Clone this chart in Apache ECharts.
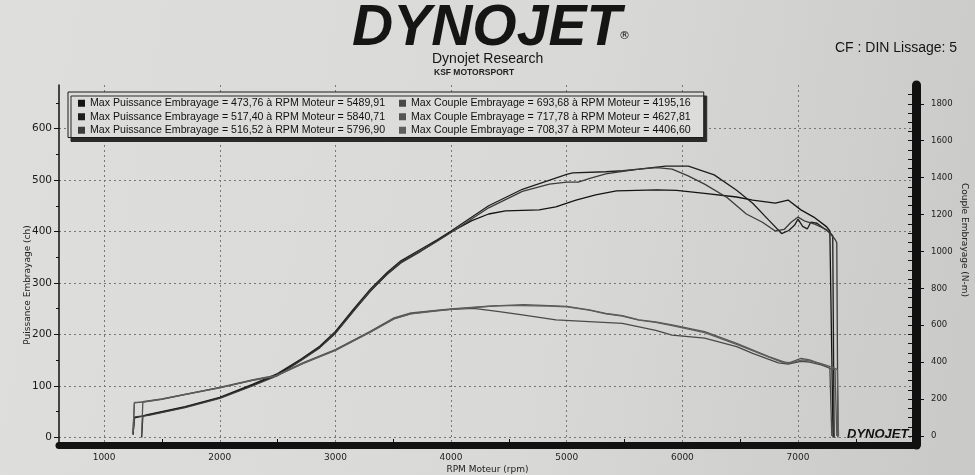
<!DOCTYPE html>
<html>
<head>
<meta charset="utf-8">
<script src="https://cdn.jsdelivr.net/npm/echarts@6.0.0/dist/echarts.min.js"></script>
<style>
  html, body { margin: 0; padding: 0; }
  body { background: linear-gradient(100deg, #dededc 0%, #d9d9d7 55%, #c9c9c7 100%); }
  #chart { width: 975px; height: 475px; }
</style>
</head>
<body>
<div id="chart"></div>
<script>
// axis ticks / labels
const rpmLabels = [1000, 2000, 3000, 4000, 5000, 6000, 7000];
const rpmMinor = [1500, 2500, 3500, 4500, 5500, 6500, 7500];
const powerLabels = [0, 100, 200, 300, 400, 500, 600];
const powerMinor = [50, 150, 250, 350, 450, 550, 650];
const torqueLabels = [0, 200, 400, 600, 800, 1000, 1200, 1400, 1600, 1800];
const torqueMinor = [];
for (let v = 0; v <= 1850; v += 50) torqueMinor.push(v);

const legendNames = [
  'Max Puissance Embrayage = 473,76 à RPM Moteur = 5489,91',
  'Max Puissance Embrayage = 517,40 à RPM Moteur = 5840,71',
  'Max Puissance Embrayage = 516,52 à RPM Moteur = 5796,90',
  'Max Couple Embrayage = 693,68 à RPM Moteur = 4195,16',
  'Max Couple Embrayage = 717,78 à RPM Moteur = 4627,81',
  'Max Couple Embrayage = 708,37 à RPM Moteur = 4406,60'
];

// [rpm, ch]
const power1 = [[1250,5],[1262,38],[1385,44],[1700,59],[2000,77],[2282,101],[2500,122],[2700,150],[2864,175],[3000,203],[3156,246],[3302,284],[3449,318],[3566,340],[3742,363],[3880,382],[4000,399],[4180,421],[4325,434],[4471,440],[4761,442],[4906,448],[5080,461],[5250,471],[5430,479],[5778,481],[5950,480],[6192,474],[6469,467],[6608,461],[6803,455],[6914,461],[7025,442],[7136,428],[7248,409],[7275,401],[7303,0]];
const power2 = [[1325,0],[1335,42],[1385,45],[1700,60],[2000,78],[2282,103],[2500,124],[2700,152],[2864,177],[3000,206],[3156,249],[3302,288],[3449,321],[3566,343],[3742,366],[3880,384],[4000,401],[4325,450],[4616,482],[5000,511],[5052,514],[5338,516],[5487,518],[5624,521],[5778,525],[5856,527],[6052,527],[6275,510],[6469,480],[6608,455],[6747,422],[6858,396],[6920,402],[6969,412],[7000,424],[7040,410],[7080,405],[7110,418],[7164,416],[7230,405],[7275,398],[7300,392],[7312,0]];
const power3 = [[1250,8],[1265,40],[1385,43],[1700,58],[2000,76],[2282,100],[2500,120],[2700,149],[2864,174],[3000,202],[3156,245],[3302,285],[3449,317],[3566,339],[3742,362],[3880,381],[4000,398],[4325,446],[4616,478],[4850,492],[5000,496],[5100,496],[5200,503],[5338,512],[5487,517],[5624,521],[5780,524],[5911,521],[6050,508],[6192,492],[6386,466],[6553,434],[6692,418],[6803,401],[6880,404],[6940,418],[7000,428],[7060,420],[7150,414],[7250,403],[7320,385],[7335,378],[7345,0]];

// [rpm, N-m]
const torque1 = [[1250,20],[1262,180],[1340,185],[1500,200],[1700,225],[2000,262],[2282,302],[2427,319],[2485,325],[2718,393],[3000,465],[3302,564],[3507,636],[3653,663],[3850,678],[4000,686],[4195,692],[4400,675],[4616,656],[4907,629],[5194,620],[5481,610],[5770,572],[5911,547],[6192,530],[6469,484],[6608,448],[6830,396],[6914,390],[7025,405],[7100,400],[7200,385],[7275,368],[7292,0]];
const torque2 = [[1325,15],[1335,186],[1500,201],[1700,226],[2000,263],[2282,304],[2427,321],[2485,327],[2718,396],[3000,468],[3302,567],[3507,640],[3653,667],[4000,689],[4325,703],[4628,712],[4848,707],[5000,702],[5194,684],[5338,665],[5481,652],[5624,629],[5768,618],[5911,602],[6192,565],[6469,502],[6747,430],[6914,394],[7025,421],[7100,412],[7200,390],[7275,367],[7320,360],[7335,0]];
const torque3 = [[1250,25],[1262,182],[1340,184],[1500,199],[1700,224],[2000,261],[2282,301],[2427,318],[2485,324],[2718,392],[3000,464],[3302,562],[3507,634],[3653,662],[4000,686],[4407,706],[4600,706],[4848,704],[5000,700],[5194,682],[5338,662],[5481,650],[5624,628],[5768,616],[5911,598],[6192,560],[6469,496],[6700,440],[6860,400],[6950,398],[7040,412],[7120,405],[7200,392],[7300,372],[7340,360],[7350,0]];

const powerData = [power1, power2, power3];
const torqueData = [torque1, torque2, torque3];
const powerColors = ['#141414', '#1e1e1e', '#3c3c3c'];
const torqueColors = ['#4a4a4a', '#555555', '#5e5e5e'];

const chart = echarts.init(document.getElementById('chart'), null, { renderer: 'canvas' });

const font = 'DejaVu Sans';
const xMin = 610, xMax = 8020;
const pMin = -14.6, pMax = 684.5;
const tMin = -48.8, tMax = 1902;
const plain = v => String(v);

const series = [];
powerData.forEach((d, i) => series.push({
  name: legendNames[i], type: 'line', xAxisIndex: 0, yAxisIndex: 0,
  data: d, showSymbol: false, lineStyle: { color: powerColors[i], width: 1.3 },
  itemStyle: { color: powerColors[i] }
}));
torqueData.forEach((d, i) => series.push({
  name: legendNames[i + 3], type: 'line', xAxisIndex: 0, yAxisIndex: 1,
  data: d, showSymbol: false, lineStyle: { color: torqueColors[i], width: 1.3 },
  itemStyle: { color: torqueColors[i] }
}));

chart.setOption({
  backgroundColor: 'transparent',
  animation: false,
  textStyle: { fontFamily: font },
  grid: { left: 59, right: 59, top: 85, bottom: 30, containLabel: false, outerBoundsMode: 'none' },
  legend: {
    data: legendNames, orient: 'vertical', left: 68, top: 92, height: 48,
    padding: [5, 0, 1, 10], itemGap: 1, icon: 'rect', itemWidth: 7, itemHeight: 7,
    backgroundColor: '#dcdcda', borderColor: '#1a1a1a', borderWidth: 1,
    shadowColor: '#2a2a2a', shadowBlur: 0, shadowOffsetX: 3, shadowOffsetY: 4,
    textStyle: { fontFamily: 'Liberation Sans', fontSize: 10.6, color: '#111', lineHeight: 12.5, padding: [0, 13, 0, 0] }
  },
  xAxis: [
    {
      type: 'value', min: xMin, max: xMax, position: 'bottom',
      name: 'RPM Moteur (rpm)', nameLocation: 'middle', nameGap: 20, nameMoveOverlap: false,
      nameTextStyle: { fontSize: 9, color: '#222' },
      axisLine: { onZero: false, lineStyle: { color: '#111', width: 7 } },
      axisTick: { show: false, customValues: rpmLabels },
      axisLabel: { customValues: rpmLabels, formatter: plain, fontSize: 9, color: '#222', margin: 8 },
      splitLine: { show: true, lineStyle: { color: '#777', width: 1, type: [2, 3] } }
    },
    {
      type: 'value', min: xMin, max: xMax, position: 'bottom',
      axisLine: { show: false, onZero: false },
      axisTick: { show: true, inside: true, length: 6, customValues: rpmMinor, lineStyle: { color: '#111' } },
      axisLabel: { show: false }, splitLine: { show: false }
    }
  ],
  yAxis: [
    {
      type: 'value', min: pMin, max: pMax, position: 'left',
      name: 'Puissance Embrayage (ch)', nameLocation: 'middle', nameGap: 27, nameMoveOverlap: false,
      nameTextStyle: { fontSize: 9, color: '#222', padding: [0, 40, 0, 0] },
      axisLine: { show: true, onZero: false, lineStyle: { color: '#111', width: 1.5 } },
      axisTick: { show: true, length: 5, customValues: powerLabels, lineStyle: { color: '#111' } },
      axisLabel: { customValues: powerLabels, formatter: plain, fontSize: 10.5, color: '#1a1a1a', margin: 7 },
      splitLine: { show: true, lineStyle: { color: '#777', width: 1, type: [2, 3] } }
    },
    {
      type: 'value', min: tMin, max: tMax, position: 'right',
      name: 'Couple Embrayage (N-m)', nameLocation: 'middle', nameGap: 44, nameRotate: -90, nameMoveOverlap: false,
      nameTextStyle: { fontSize: 9, color: '#222', padding: [0, 50, 0, 0] },
      axisLine: { show: true, onZero: false, lineStyle: { color: '#111', width: 9 } },
      axisTick: { show: true, length: 8, customValues: torqueLabels, lineStyle: { color: '#111' } },
      axisLabel: { customValues: torqueLabels, formatter: plain, fontSize: 8.5, color: '#222', margin: 15 },
      splitLine: { show: false }
    },
    {
      type: 'value', min: pMin, max: pMax, position: 'left',
      axisLine: { show: false, onZero: false },
      axisTick: { show: true, length: 3, customValues: powerMinor, lineStyle: { color: '#111' } },
      axisLabel: { show: false }, splitLine: { show: false }
    },
    {
      type: 'value', min: tMin, max: tMax, position: 'right',
      axisLine: { show: false, onZero: false },
      axisTick: { show: true, inside: true, length: 8, customValues: torqueMinor, lineStyle: { color: '#111' } },
      axisLabel: { show: false }, splitLine: { show: false }
    }
  ],
  graphic: [
    { type: 'text', left: 352, top: 1, style: { text: 'DYNOJET', fontFamily: 'Liberation Sans', fontSize: 57, fontWeight: 'bold', fontStyle: 'italic', fill: '#151515' } },
    { type: 'text', left: 619, top: 31, style: { text: '®', fontFamily: font, fontSize: 11, fill: '#151515' } },
    { type: 'text', left: 432, top: 52, style: { text: 'Dynojet Research', fontFamily: 'Liberation Sans', fontSize: 14, fill: '#151515' } },
    { type: 'text', left: 434, top: 68, style: { text: 'KSF MOTORSPORT', fontFamily: 'Liberation Sans', fontSize: 8.5, fontWeight: 'bold', fill: '#222' } },
    { type: 'text', left: 835, top: 41, style: { text: 'CF : DIN Lissage: 5', fontFamily: 'Liberation Sans', fontSize: 14, fill: '#151515' } },
    { type: 'text', left: 847, top: 428, style: { text: 'DYNOJET', fontFamily: 'Liberation Sans', fontSize: 13, fontWeight: 'bold', fontStyle: 'italic', fill: '#111' } }
  ],
  series: series
});
</script>
</body>
</html>
